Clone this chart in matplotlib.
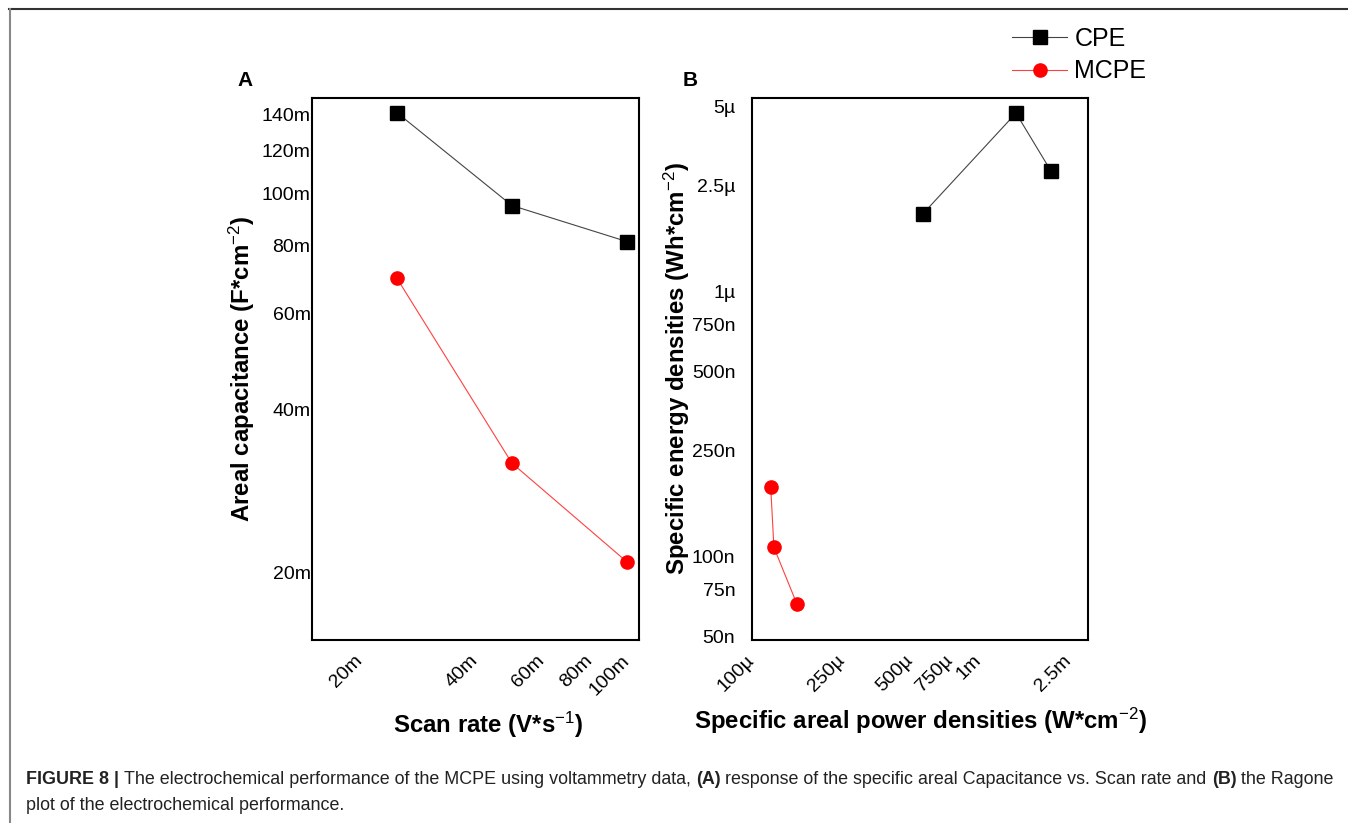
import matplotlib
matplotlib.use("Agg")
import matplotlib.pyplot as plt
from matplotlib.lines import Line2D
from matplotlib.ticker import FixedLocator, FixedFormatter, NullLocator

plt.rcParams["font.family"] = ["Liberation Sans", "DejaVu Sans"]
plt.rcParams["mathtext.fontset"] = "custom"
plt.rcParams["mathtext.rm"] = "Liberation Sans"
plt.rcParams["mathtext.it"] = "Liberation Sans"
plt.rcParams["mathtext.bf"] = "Liberation Sans:bold"

# --- data ---
scan_rate = [25e-3, 50e-3, 100e-3]
cap_cpe = [141e-3, 95e-3, 81.5e-3]
cap_mcpe = [69.8e-3, 31.8e-3, 20.9e-3]

power_cpe = [570e-6, 1.47e-3, 2.10e-3]
energy_cpe = [1.96e-6, 4.70e-6, 2.84e-6]
power_mcpe = [121e-6, 125e-6, 158e-6]
energy_mcpe = [182e-9, 108e-9, 66e-9]

a_xticks = [20e-3, 40e-3, 60e-3, 80e-3, 100e-3]
a_xlabels = ["20m", "40m", "60m", "80m", "100m"]
a_yticks = [20e-3, 40e-3, 60e-3, 80e-3, 100e-3, 120e-3, 140e-3]
a_ylabels = ["20m", "40m", "60m", "80m", "100m", "120m", "140m"]
b_xticks = [100e-6, 250e-6, 500e-6, 750e-6, 1e-3, 2.5e-3]
b_xlabels = ["100µ", "250µ", "500µ", "750µ", "1m", "2.5m"]
b_yticks = [50e-9, 75e-9, 100e-9, 250e-9, 500e-9, 750e-9, 1e-6, 2.5e-6, 5e-6]
b_ylabels = ["50n", "75n", "100n", "250n", "500n", "750n", "1µ", "2.5µ", "5µ"]

W, H = 1348, 823
fig = plt.figure(figsize=(W / 100, H / 100), dpi=100)


def fx(px):
    return px / W


def fy(py):
    return 1 - py / H


axA = fig.add_axes([fx(312), fy(640), fx(639) - fx(312), fy(98) - fy(640)])
axB = fig.add_axes([fx(752), fy(640), fx(1088) - fx(752), fy(98) - fy(640)])

cpe_style = dict(color="#444444", lw=0.8, marker="s", ms=10, mfc="black", mec="black")
mcpe_style = dict(color="#ff4040", lw=0.8, marker="o", ms=9.5, mfc="red", mec="red")

axA.plot(scan_rate, cap_cpe, **cpe_style)
axA.plot(scan_rate, cap_mcpe, **mcpe_style)
axB.plot(power_cpe, energy_cpe, **cpe_style)
axB.plot(power_mcpe, energy_mcpe, **mcpe_style)

for ax in (axA, axB):
    ax.set_xscale("log")
    ax.set_yscale("log")
    for s in ax.spines.values():
        s.set_linewidth(1.5)
    ax.xaxis.set_minor_locator(NullLocator())
    ax.yaxis.set_minor_locator(NullLocator())

axA.set_xlim(15e-3, 107.5e-3)
axA.set_ylim(15e-3, 150e-3)
axB.set_xlim(100e-6, 3.06e-3)
axB.set_ylim(48.3e-9, 5.36e-6)

for ax, xt, xl, yt, yl, ypad in [
    (axA, a_xticks, a_xlabels, a_yticks, a_ylabels, 1),
    (axB, b_xticks, b_xlabels, b_yticks, b_ylabels, 12),
]:
    ax.xaxis.set_major_locator(FixedLocator(xt))
    ax.xaxis.set_major_formatter(FixedFormatter(xl))
    ax.yaxis.set_major_locator(FixedLocator(yt))
    ax.yaxis.set_major_formatter(FixedFormatter(yl))
    ax.tick_params(axis="x", length=0, pad=13, labelsize=14)
    ax.tick_params(axis="y", length=0, pad=ypad, labelsize=14)
    for lab in ax.get_xticklabels():
        lab.set_rotation(45)
        lab.set_rotation_mode("anchor")
        lab.set_ha("right")
        lab.set_va("center")

lab_kw = dict(fontsize=17.3, fontweight="bold")
axA.set_xlabel(r"Scan rate (V*s$^{-1}$)", labelpad=8, **lab_kw)
axA.xaxis.label.set_x(0.537)
axA.set_ylabel(r"Areal capacitance (F*cm$^{-2}$)", labelpad=3, **lab_kw)
axB.set_xlabel(r"Specific areal power densities (W*cm$^{-2}$)", labelpad=8, **lab_kw)
axB.set_ylabel(r"Specific energy densities (Wh*cm$^{-2}$)", labelpad=0, **lab_kw)

fig.text(fx(245), fy(80), "A", fontsize=15, fontweight="bold", ha="center", va="center")
fig.text(fx(690), fy(80), "B", fontsize=15, fontweight="bold", ha="center", va="center")

handles = [Line2D([], [], **cpe_style), Line2D([], [], **mcpe_style)]
fig.legend(handles, ["CPE", "MCPE"], loc="upper left", bbox_to_anchor=(fx(1012), fy(27)),
           frameon=False, fontsize=18, handlelength=2.2, handletextpad=0.3,
           labelspacing=0.33, borderpad=0, borderaxespad=0)

# frame lines
fig.add_artist(Line2D([fx(9), 1], [fy(9), fy(9)], color="#333333", lw=1.5))
fig.add_artist(Line2D([fx(10), fx(10)], [fy(9), 0], color="#888888", lw=1.5))

# caption with mixed weights
renderer = fig.canvas.get_renderer()


def chain(parts, x0, y0, size=12.9):
    x = x0
    for txt, bold in parts:
        t = fig.text(x, y0, txt, fontsize=size, fontweight="bold" if bold else "normal",
                     ha="left", va="center", color="#222222")
        bb = t.get_window_extent(renderer)
        x = fx(bb.x1)


line1 = [
    ("FIGURE 8 | ", True),
    ("The electrochemical performance of the MCPE using voltammetry data, ", False),
    ("(A)", True),
    (" response of the specific areal Capacitance vs. Scan rate and ", False),
    ("(B)", True),
    (" the Ragone", False),
]
chain(line1, fx(26), fy(779))
chain([("plot of the electrochemical performance.", False)], fx(26), fy(805))

fig.savefig("out.png", dpi=100)
